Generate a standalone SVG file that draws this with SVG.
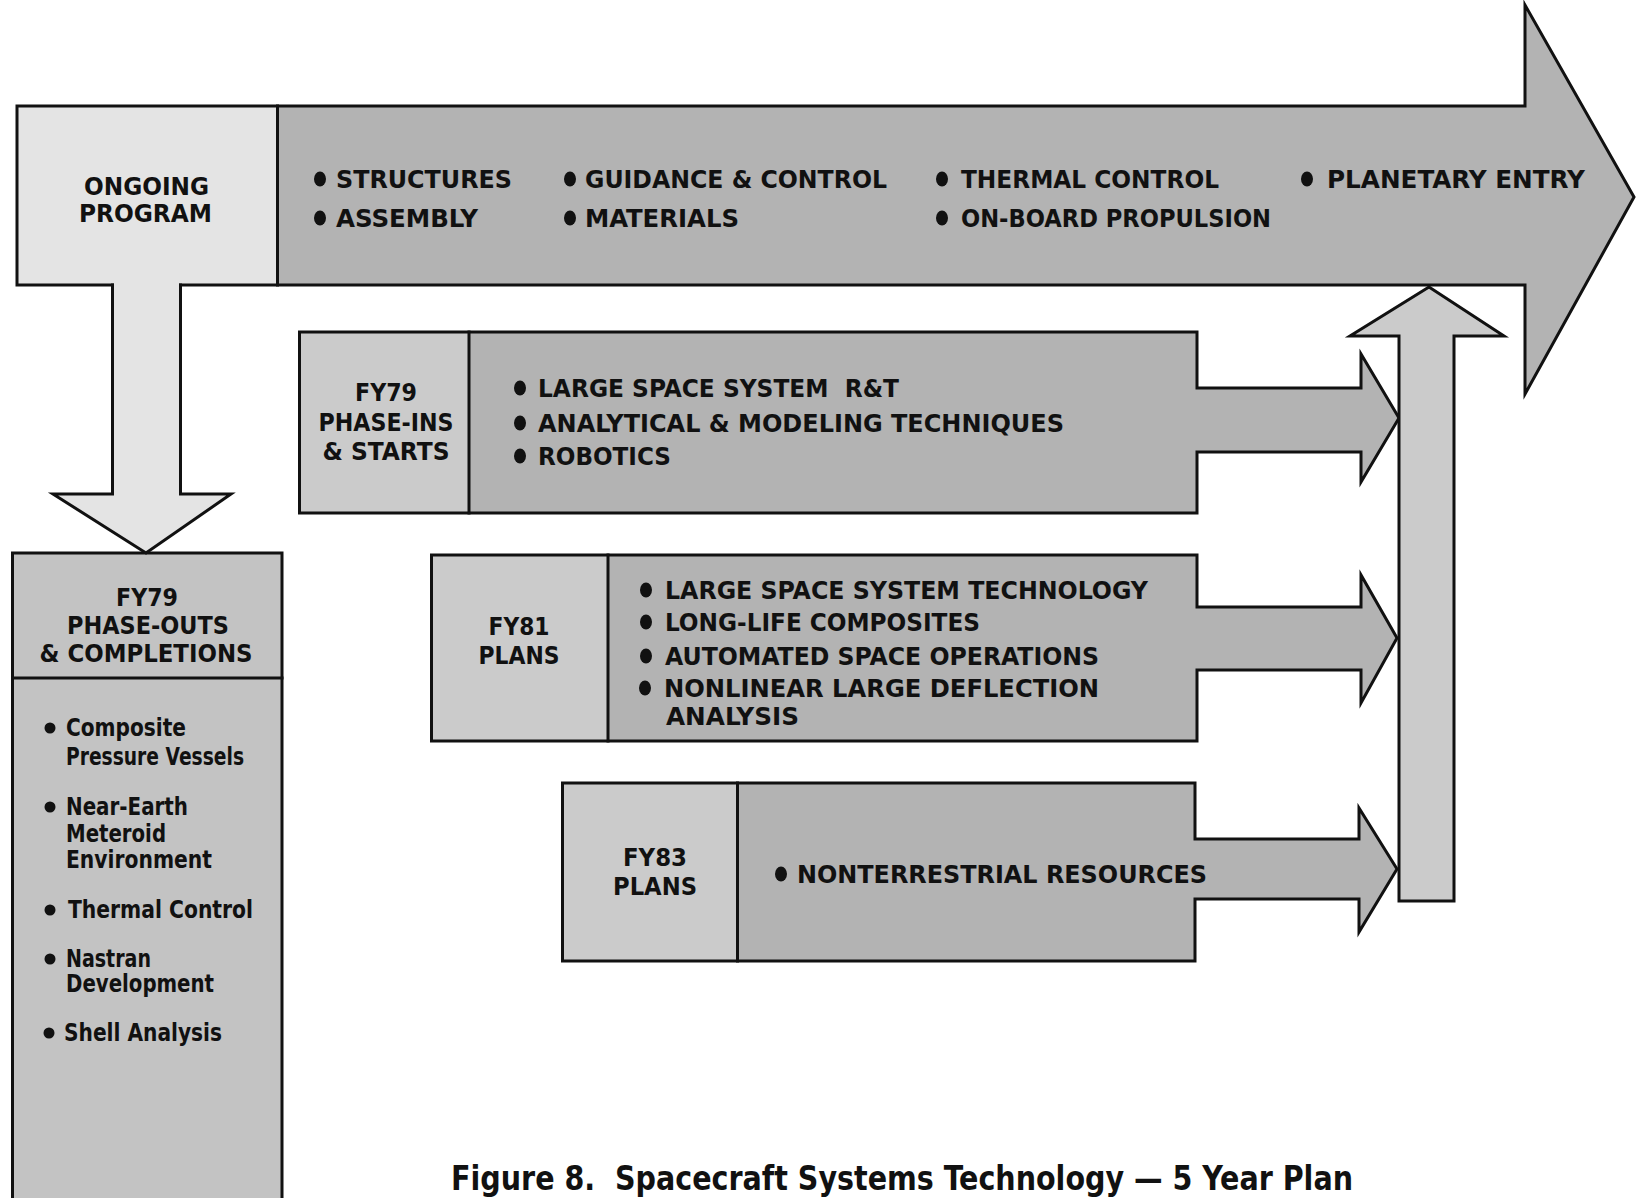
<svg xmlns="http://www.w3.org/2000/svg" width="1636" height="1198" viewBox="0 0 1636 1198">
<style>
.ln{stroke:#111;stroke-width:3;stroke-linejoin:miter;stroke-linecap:square;fill:none}
.t{font-family:"Liberation Sans Narrow","DejaVu Sans Condensed","Liberation Sans",Arial,sans-serif;font-weight:bold;font-size:25px;fill:#111}
.w{font-family:"DejaVu Sans","Liberation Sans",Arial,sans-serif;font-weight:bold;font-size:24px;fill:#111}
.cap{font-family:"Liberation Sans Narrow","DejaVu Sans Condensed","Liberation Sans",Arial,sans-serif;font-weight:bold;font-size:34px;fill:#111;white-space:pre}
.b{fill:#111}
.light{fill:#e4e4e4}
.mid{fill:#cbcbcb}
.dark{fill:#b3b3b3}
.po{fill:#c3c3c3}
</style>
<rect width="1636" height="1198" fill="#ffffff"/>

<g id="ongoing-program">
  <rect class="light" x="17" y="106" width="260.5" height="179"/>
  <path class="ln" d="M112.5,285 H17 V106 H277.5 V285 H180.5"/>
  <polygon class="dark" points="277.5,106 1525,106 1525,5 1634,197 1525,394 1525,285 277.5,285"/>
  <polygon class="ln" points="277.5,106 1525,106 1525,5 1634,197 1525,394 1525,285 277.5,285"/>
  <text class="t" x="84" y="195" textLength="125" lengthAdjust="spacingAndGlyphs">ONGOING</text>
  <text class="t" x="79" y="222" textLength="133" lengthAdjust="spacingAndGlyphs">PROGRAM</text>
  <ellipse class="b" cx="320" cy="179" rx="6" ry="7.5"/>
  <text class="t" x="336" y="188" textLength="176" lengthAdjust="spacingAndGlyphs">STRUCTURES</text>
  <ellipse class="b" cx="320" cy="218" rx="6" ry="7.5"/>
  <text class="t" x="336" y="227" textLength="142" lengthAdjust="spacingAndGlyphs">ASSEMBLY</text>
  <ellipse class="b" cx="570" cy="179" rx="6" ry="7.5"/>
  <text class="t" x="585" y="188" textLength="302" lengthAdjust="spacingAndGlyphs">GUIDANCE &amp; CONTROL</text>
  <ellipse class="b" cx="570" cy="218" rx="6" ry="7.5"/>
  <text class="t" x="585" y="227" textLength="154" lengthAdjust="spacingAndGlyphs">MATERIALS</text>
  <ellipse class="b" cx="942" cy="179" rx="6" ry="7.5"/>
  <text class="t" x="961" y="188" textLength="258" lengthAdjust="spacingAndGlyphs">THERMAL CONTROL</text>
  <ellipse class="b" cx="942" cy="218" rx="6" ry="7.5"/>
  <text class="t" x="961" y="227" textLength="310" lengthAdjust="spacingAndGlyphs">ON-BOARD PROPULSION</text>
  <ellipse class="b" cx="1307" cy="179" rx="6" ry="7.5"/>
  <text class="t" x="1327" y="188" textLength="258" lengthAdjust="spacingAndGlyphs">PLANETARY ENTRY</text>
</g>

<g id="fy79-phase-ins">
  <rect class="mid" x="299.5" y="332" width="169.5" height="181"/>
  <polygon class="dark" points="469,332 1197,332 1197,388 1361,388 1361,354 1399,418 1361,482 1361,452 1197,452 1197,513 469,513"/>
  <polygon class="ln" points="299.5,332 1197,332 1197,388 1361,388 1361,354 1399,418 1361,482 1361,452 1197,452 1197,513 299.5,513"/>
  <path class="ln" d="M469,332 V513"/>
  <text class="t" x="386" y="401" text-anchor="middle" textLength="62" lengthAdjust="spacingAndGlyphs">FY79</text>
  <text class="t" x="386" y="431" text-anchor="middle" textLength="135" lengthAdjust="spacingAndGlyphs">PHASE-INS</text>
  <text class="t" x="386" y="460" text-anchor="middle" textLength="127" lengthAdjust="spacingAndGlyphs">&amp; STARTS</text>
  <ellipse class="b" cx="520" cy="388" rx="6" ry="7.5"/>
  <text class="t" x="538" y="397" textLength="361" lengthAdjust="spacingAndGlyphs" style="white-space:pre">LARGE SPACE SYSTEM  R&amp;T</text>
  <ellipse class="b" cx="520" cy="423" rx="6" ry="7.5"/>
  <text class="t" x="538" y="432" textLength="526" lengthAdjust="spacingAndGlyphs">ANALYTICAL &amp; MODELING TECHNIQUES</text>
  <ellipse class="b" cx="520" cy="456" rx="6" ry="7.5"/>
  <text class="t" x="538" y="465" textLength="133" lengthAdjust="spacingAndGlyphs">ROBOTICS</text>
</g>

<g id="fy81-plans">
  <rect class="mid" x="431.5" y="555" width="176.5" height="186"/>
  <polygon class="dark" points="608,555 1197,555 1197,607 1361,607 1361,575 1397,638 1361,703 1361,670 1197,670 1197,741 608,741"/>
  <polygon class="ln" points="431.5,555 1197,555 1197,607 1361,607 1361,575 1397,638 1361,703 1361,670 1197,670 1197,741 431.5,741"/>
  <path class="ln" d="M608,555 V741"/>
  <text class="t" x="519" y="635" text-anchor="middle" textLength="61" lengthAdjust="spacingAndGlyphs">FY81</text>
  <text class="t" x="519" y="664" text-anchor="middle" textLength="81" lengthAdjust="spacingAndGlyphs">PLANS</text>
  <ellipse class="b" cx="646" cy="590" rx="6" ry="7.5"/>
  <text class="t" x="665" y="599" textLength="483" lengthAdjust="spacingAndGlyphs">LARGE SPACE SYSTEM TECHNOLOGY</text>
  <ellipse class="b" cx="646" cy="622" rx="6" ry="7.5"/>
  <text class="t" x="665" y="631" textLength="315" lengthAdjust="spacingAndGlyphs">LONG-LIFE COMPOSITES</text>
  <ellipse class="b" cx="646" cy="656" rx="6" ry="7.5"/>
  <text class="t" x="665" y="665" textLength="434" lengthAdjust="spacingAndGlyphs">AUTOMATED SPACE OPERATIONS</text>
  <ellipse class="b" cx="645" cy="688" rx="6" ry="7.5"/>
  <text class="t" x="664" y="697" textLength="435" lengthAdjust="spacingAndGlyphs">NONLINEAR LARGE DEFLECTION</text>
  <text class="t" x="666" y="725" textLength="133" lengthAdjust="spacingAndGlyphs">ANALYSIS</text>
</g>

<g id="fy83-plans">
  <rect class="mid" x="562.5" y="783" width="175" height="178"/>
  <polygon class="dark" points="737.5,783 1195,783 1195,839 1359,839 1359,808 1397,869 1359,932 1359,899 1195,899 1195,961 737.5,961"/>
  <polygon class="ln" points="562.5,783 1195,783 1195,839 1359,839 1359,808 1397,869 1359,932 1359,899 1195,899 1195,961 562.5,961"/>
  <path class="ln" d="M737.5,783 V961"/>
  <text class="t" x="655" y="866" text-anchor="middle" textLength="64" lengthAdjust="spacingAndGlyphs">FY83</text>
  <text class="t" x="655" y="895" text-anchor="middle" textLength="84" lengthAdjust="spacingAndGlyphs">PLANS</text>
  <ellipse class="b" cx="781" cy="874" rx="6" ry="7.5"/>
  <text class="t" x="797" y="883" textLength="410" lengthAdjust="spacingAndGlyphs">NONTERRESTRIAL RESOURCES</text>
</g>

<g id="fy79-phase-outs">
  <rect class="po" x="12.5" y="553" width="269.5" height="660"/>
  <path class="ln" d="M12.5,1210 V553 H282 V1210"/>
  <path class="ln" d="M12.5,678 H282"/>
  <text class="w" x="147" y="606" text-anchor="middle" textLength="62" lengthAdjust="spacingAndGlyphs">FY79</text>
  <text class="w" x="148" y="634" text-anchor="middle" textLength="162" lengthAdjust="spacingAndGlyphs">PHASE-OUTS</text>
  <text class="w" x="146" y="662" text-anchor="middle" textLength="213" lengthAdjust="spacingAndGlyphs">&amp; COMPLETIONS</text>
  <circle class="b" cx="50" cy="728" r="5.5"/>
  <text class="w" x="66" y="736" textLength="120" lengthAdjust="spacingAndGlyphs">Composite</text>
  <text class="w" x="66" y="765" textLength="178" lengthAdjust="spacingAndGlyphs">Pressure Vessels</text>
  <circle class="b" cx="50" cy="807" r="5.5"/>
  <text class="w" x="66" y="815" textLength="122" lengthAdjust="spacingAndGlyphs">Near-Earth</text>
  <text class="w" x="66" y="842" textLength="100" lengthAdjust="spacingAndGlyphs">Meteroid</text>
  <text class="w" x="66" y="868" textLength="146" lengthAdjust="spacingAndGlyphs">Environment</text>
  <circle class="b" cx="50" cy="910" r="5.5"/>
  <text class="w" x="68" y="918" textLength="185" lengthAdjust="spacingAndGlyphs">Thermal Control</text>
  <circle class="b" cx="50" cy="959" r="5.5"/>
  <text class="w" x="66" y="967" textLength="85" lengthAdjust="spacingAndGlyphs">Nastran</text>
  <text class="w" x="66" y="992" textLength="148" lengthAdjust="spacingAndGlyphs">Development</text>
  <circle class="b" cx="49" cy="1033" r="5.5"/>
  <text class="w" x="64" y="1041" textLength="158" lengthAdjust="spacingAndGlyphs">Shell Analysis</text>
</g>

<g id="connectors">
  <path class="light" d="M112.5,285 V494 H53 L146,553 L231,494 H180.5 V285 Z"/>
  <path class="ln" d="M112.5,285 V494 H53 L146,553 L231,494 H180.5 V285"/>
  <polygon class="mid" points="1399,901 1399,336 1350,336 1429,287 1504,336 1454,336 1454,901"/>
  <polygon class="ln" points="1399,901 1399,336 1350,336 1429,287 1504,336 1454,336 1454,901"/>
</g>

<text id="caption" class="cap" x="451" y="1190" textLength="902" lengthAdjust="spacingAndGlyphs">Figure 8.  Spacecraft Systems Technology — 5 Year Plan</text>
</svg>
